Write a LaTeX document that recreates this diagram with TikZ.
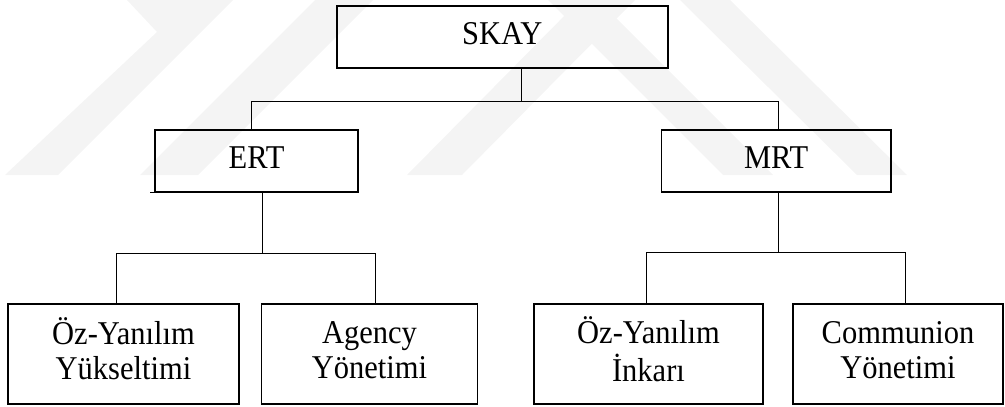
\documentclass[tikz,border=0pt]{standalone}
\usepackage{fontspec}
\usepackage{graphicx}
\setmainfont{Liberation Serif}
\definecolor{wm}{gray}{0.955}
\newcommand{\boxtext}[1]{\scalebox{1}[1.09]{\begin{tabular}{@{}c@{}}#1\end{tabular}}}
\begin{document}
\begin{tikzpicture}[x=1pt,y=-1pt,
  box/.style={draw=black,line width=1.6pt,inner sep=0pt,align=center,
    font=\fontsize{30.5}{32.5}\selectfont},
  link/.style={draw=black,line width=1pt}]
\useasboundingbox (0,0) rectangle (1005,407);
% faint watermark
\fill[wm] (127,0) -- (157,32) -- (5,175) -- (58,175) -- (233,0) -- cycle;
\fill[wm] (140,175) -- (198,175) -- (373,0) -- (315,0) -- cycle;
\fill[wm] (407,175) -- (462,175) -- (635,0) -- (580,0) -- cycle;
\fill[wm] (548,0) -- (598,0) -- (773,175) -- (723,175) -- cycle;
\fill[wm] (680,0) -- (730,0) -- (907,175) -- (857,175) -- cycle;
% boxes
\node[box,minimum width=331pt,minimum height=62pt] (skay) at (502.2,37) {\boxtext{SKAY}};
\node[box,minimum width=203pt,minimum height=62pt] (ert) at (256.5,161) {\boxtext{ERT}};
\node[box,minimum width=229.5pt,minimum height=62pt] (mrt) at (776.2,161) {\boxtext{MRT}};
\node[box,minimum width=231pt,minimum height=100pt] (b1) at (123.5,354) {\boxtext{Öz-Yanılım\\Yükseltimi}};
\node[box,minimum width=216pt,minimum height=100pt] (b2) at (369.5,354) {\boxtext{Agency\\Yönetimi}};
\node[box,minimum width=229pt,minimum height=100pt] (b3) at (648.5,354) {\boxtext{Öz-Yanılım\\İnkarı}};
\node[box,minimum width=210pt,minimum height=100pt] (b4) at (898,354) {\boxtext{Communion\\Yönetimi}};
% small overhang at ERT's lower left corner
\draw[line width=1.2pt] (ert.south west) -- ++(-4,0);
% junction coordinates
\coordinate (j0) at (521.7,101.7);
\coordinate (jl) at (251,101.7);
\coordinate (jr) at (778,101.7);
\coordinate (e0) at (262.7,253);
\coordinate (e1) at (116.5,253);
\coordinate (e2) at (375,253);
\coordinate (m0) at (778.7,252.3);
\coordinate (m1) at (646,252.3);
\coordinate (m2) at (905.5,252.3);
% connectors
\draw[link] (j0 |- skay.south) -- (j0);
\draw[link] (ert.north -| jl) -- (jl) -- (jr) -- (mrt.north -| jr);
\draw[link] (e0 |- ert.south) -- (e0);
\draw[link] (b1.north -| e1) -- (e1) -- (e2) -- (b2.north -| e2);
\draw[link] (m0 |- mrt.south) -- (m0);
\draw[link] (b3.north -| m1) -- (m1) -- (m2) -- (b4.north -| m2);
\end{tikzpicture}
\end{document}
